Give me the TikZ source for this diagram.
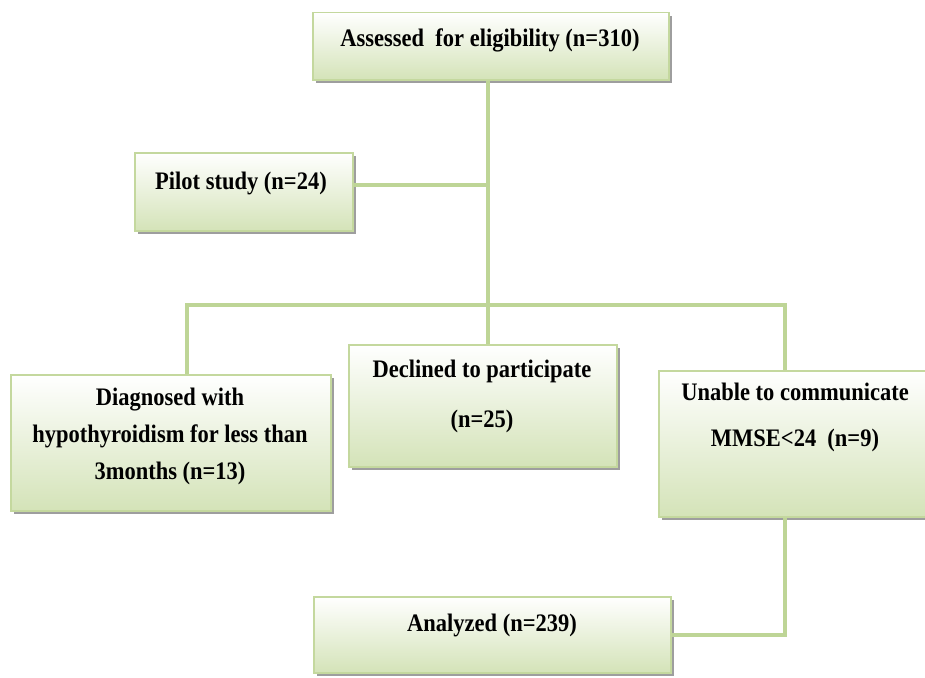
\documentclass[tikz,border=0pt]{standalone}
\usepackage{fontspec}
\setmainfont{Liberation Serif}
\usetikzlibrary{shadows}
\definecolor{gline}{RGB}{190,213,150}
\definecolor{gfill}{RGB}{212,227,184}
\definecolor{gborder}{RGB}{196,216,158}
\newcommand\vstr[1]{\scalebox{1}[1.12]{#1}}
\begin{document}
\begin{tikzpicture}[x=1pt,y=-1pt,
  box/.style={draw=gborder, line width=1.5pt, top color=white, bottom color=gfill,
    drop shadow={shadow xshift=3.5pt, shadow yshift=-3.5pt, fill=black!38, opacity=1},
    anchor=north west, inner sep=0},
  conn/.style={draw=gline, line width=4pt},
  txt/.style={font=\fontsize{22.5}{37}\selectfont\bfseries, align=center, inner sep=0}]
\useasboundingbox (0,0) rectangle (925,677);
% junction coordinates
\coordinate (j1) at (488,185);
\coordinate (j2) at (488,305);
\coordinate (bl) at (187,305);
\coordinate (br) at (785,305);
\coordinate (bend) at (785,635);
% boxes
\node[box, minimum width=356pt, minimum height=67pt] (assess) at (312,12) {};
\node[box, minimum width=218pt, minimum height=78pt] (pilot) at (134,152) {};
\node[box, minimum width=320pt, minimum height=136pt] (diag) at (10,374) {};
\node[box, minimum width=268pt, minimum height=122pt] (decl) at (348,344) {};
\node[box, minimum width=270pt, minimum height=146pt] (unable) at (658,370) {};
\node[box, minimum width=357pt, minimum height=76pt] (anal) at (313,596) {};
% connectors
\draw[conn] (assess.south -| j2) -- (j2);
\draw[conn] (pilot.east |- j1) -- (j1);
\draw[conn] (bl |- diag.north) -- (bl) -- (br) -- (br |- unable.north);
\draw[conn] (j2) -- (j2 |- decl.north);
\draw[conn] (br |- unable.south) -- (bend) -- (bend -| anal.east);
% texts
\node[txt] (tAssess) at (490,40) {\vstr{Assessed\ \ for eligibility (n=310)}};
\node[txt] (tPilot) at (241,183) {\vstr{Pilot study\ (n=24)}};
\node[txt] (tDiag) at (170,436) {\vstr{Diagnosed with}\\\vstr{hypothyroidism\ for less than}\\\vstr{3months (n=13)}};
\node[txt] (tDecl) at (482,396) {\vstr{Declined to participate}\\[13pt]\vstr{(n=25)}};
\node[txt] (tUn) at (795,417) {\vstr{Unable to communicate}\\[9pt]\vstr{MMSE<24\ \ (n=9)}};
\node[txt] (tAnal) at (492,625) {\vstr{Analyzed (n=239)}};
\end{tikzpicture}
\end{document}
